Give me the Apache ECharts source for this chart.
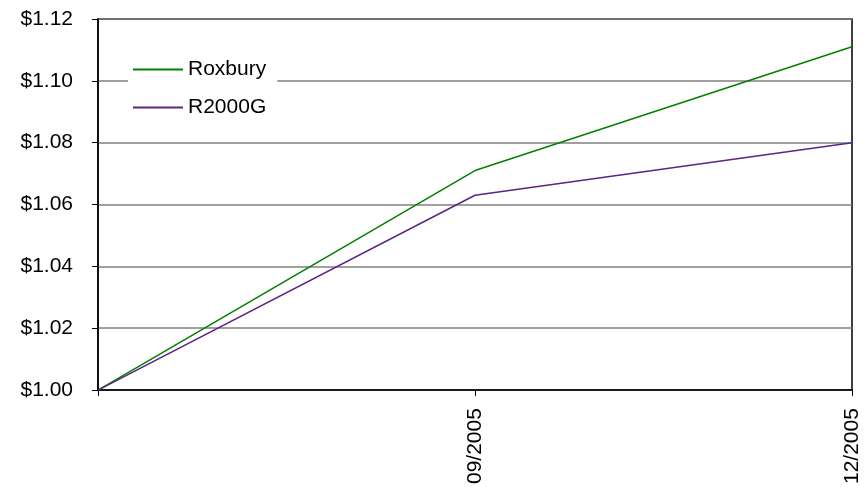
<!DOCTYPE html>
<html><head><meta charset="utf-8">
<script src="https://cdn.jsdelivr.net/npm/echarts@6/dist/echarts.min.js"></script>
<style>html,body{margin:0;padding:0;background:#fff}#c{width:867px;height:487px}</style>
</head><body><div id="c"></div>
<script>
var categories = ['', '09/2005', '12/2005'];
var roxbury = [1.000, 1.071, 1.111];
var r2000g = [1.000, 1.063, 1.080];
var seriesNames = ['Roxbury', 'R2000G'];

var chart = echarts.init(document.getElementById('c'), null, {renderer: 'canvas'});
var font = 'Liberation Sans, Arial, sans-serif';
chart.setOption({
  animation: false,
  backgroundColor: '#fff',
  grid: {left: 98, right: 15, top: 19, bottom: 95, show: true, borderColor: '#000', borderWidth: 1.5, backgroundColor: 'transparent'},
  legend: {
    orient: 'vertical', left: 128, top: 51, itemWidth: 50, itemHeight: 2, itemGap: 17,
    icon: 'rect', backgroundColor: '#fff', padding: [8, 11, 8, 5],
    textStyle: {fontFamily: font, fontSize: 21, lineHeight: 21, color: '#000'},
    data: seriesNames
  },
  xAxis: {
    type: 'category', data: categories, boundaryGap: false,
    axisLine: {lineStyle: {color: '#000', width: 1.5}},
    axisTick: {show: true, length: 6, lineStyle: {color: '#000'}},
    axisLabel: {rotate: 90, margin: 18, fontFamily: font, fontSize: 21, color: '#000', interval: 0},
    splitLine: {show: false}
  },
  yAxis: {
    type: 'value', min: 1.00, max: 1.12, interval: 0.02,
    axisLine: {show: true, lineStyle: {color: '#000', width: 1.5}},
    axisTick: {show: true, length: 6, lineStyle: {color: '#000'}},
    axisLabel: {margin: 25, fontFamily: font, fontSize: 21, color: '#000',
      formatter: function (v) { return '$' + v.toFixed(2); }},
    splitLine: {show: true, lineStyle: {color: '#808080', width: 1.5}}
  },
  series: [
    {name: seriesNames[0], type: 'line', data: roxbury, symbol: 'none', lineStyle: {color: '#008000', width: 1.5}, itemStyle: {color: '#008000'}},
    {name: seriesNames[1], type: 'line', data: r2000g, symbol: 'none', lineStyle: {color: '#5c2483', width: 1.5}, itemStyle: {color: '#5c2483'}}
  ]
});
</script></body></html>
